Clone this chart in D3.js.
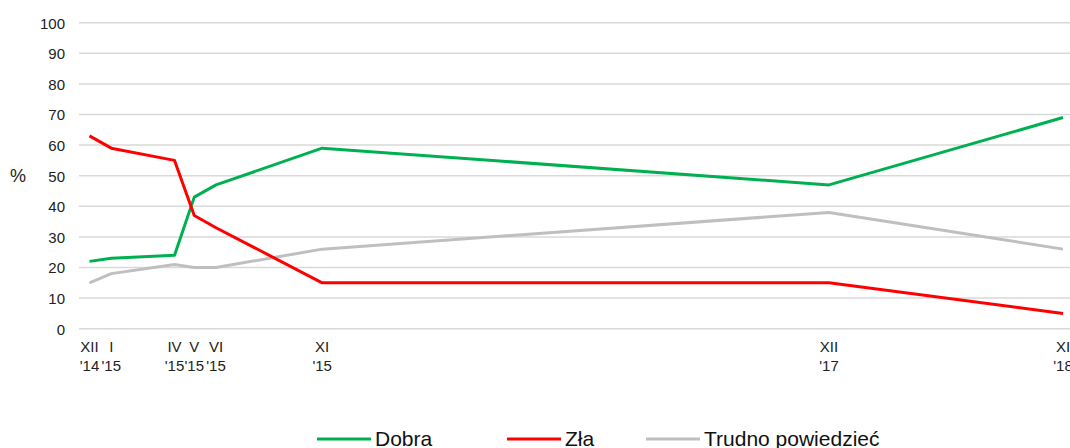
<!DOCTYPE html>
<html><head><meta charset="utf-8">
<script src="https://cdn.jsdelivr.net/npm/d3@7"></script>
<style>body{margin:0;background:#fff;} svg{display:block;font-family:"Liberation Sans",Arial,sans-serif;}</style>
</head><body>
<svg id="c" width="1070" height="448"></svg>
<script>
const dates = ["2014-12-10","2015-01-11","2015-04-14","2015-05-13","2015-06-14","2015-11-17","2017-12-01","2018-11-10"];
const monthLabels = ["XII","I","IV","V","VI","XI","XII","XI"];
const yearLabels = ["'14","'15","'15","'15","'15","'15","'17","'18"];
const dobra = [22,23,24,43,47,59,47,69];
const zla = [63,59,55,37,33,15,15,5];
const trudno = [15,18,21,20,20,26,38,26];
const seriesNames = ["Dobra","Zła","Trudno powiedzieć"];
const seriesColors = ["#00b050","#ff0000","#bfbfbf"];
const yTicks = [0,10,20,30,40,50,60,70,80,90,100];

const parse = d3.timeParse("%Y-%m-%d");
const T = dates.map(parse);
const svg = d3.select("#c");
const x = d3.scaleTime().domain([T[0], T[T.length-1]]).range([89.5, 1063]);
const y = d3.scaleLinear().domain([0,100]).range([328.7, 22.7]);

// gridlines
svg.append("g").selectAll("line").data(yTicks).join("line")
  .attr("x1",79).attr("x2",1070)
  .attr("y1",d=>y(d)).attr("y2",d=>y(d))
  .attr("stroke","#d9d9d9").attr("stroke-width",1.5);

// y axis labels
const yAxis = d3.axisLeft(y).tickValues(yTicks).tickSize(0).tickPadding(0);
const ga = svg.append("g").attr("transform","translate(65,0)").call(yAxis);
ga.select(".domain").remove();
ga.selectAll("text").attr("font-size",15).attr("fill","#222").attr("font-family","Liberation Sans, Arial, sans-serif").attr("dy","0.36em");

svg.append("text").attr("x",10).attr("y",182).attr("font-size",18).attr("fill","#222").text("%");

// x labels
const xl = svg.append("g");
T.forEach((t,i)=>{
  xl.append("text").attr("x",x(t)).attr("y",352).attr("text-anchor","middle").attr("font-size",15).attr("fill","#222").text(monthLabels[i]);
  xl.append("text").attr("x",x(t)).attr("y",371).attr("text-anchor","middle").attr("font-size",15).attr("fill","#222").text(yearLabels[i]);
});

const all = [dobra, zla, trudno];
const line = d3.line().x((d,i)=>x(T[i])).y(d=>y(d));
[2,0,1].forEach(k=>{
  svg.append("path").datum(all[k]).attr("d",line).attr("fill","none")
    .attr("stroke",seriesColors[k]).attr("stroke-width",3).attr("stroke-linejoin","round");
});

// legend
const legendX = [317, 507, 646];
seriesNames.forEach((n,i)=>{
  svg.append("line").attr("x1",legendX[i]).attr("x2",legendX[i]+54).attr("y1",439).attr("y2",439)
    .attr("stroke",seriesColors[i]).attr("stroke-width",3);
  svg.append("text").attr("x",legendX[i]+58).attr("y",446).attr("font-size",21).attr("fill","#111").text(n);
});
</script>
</body></html>
